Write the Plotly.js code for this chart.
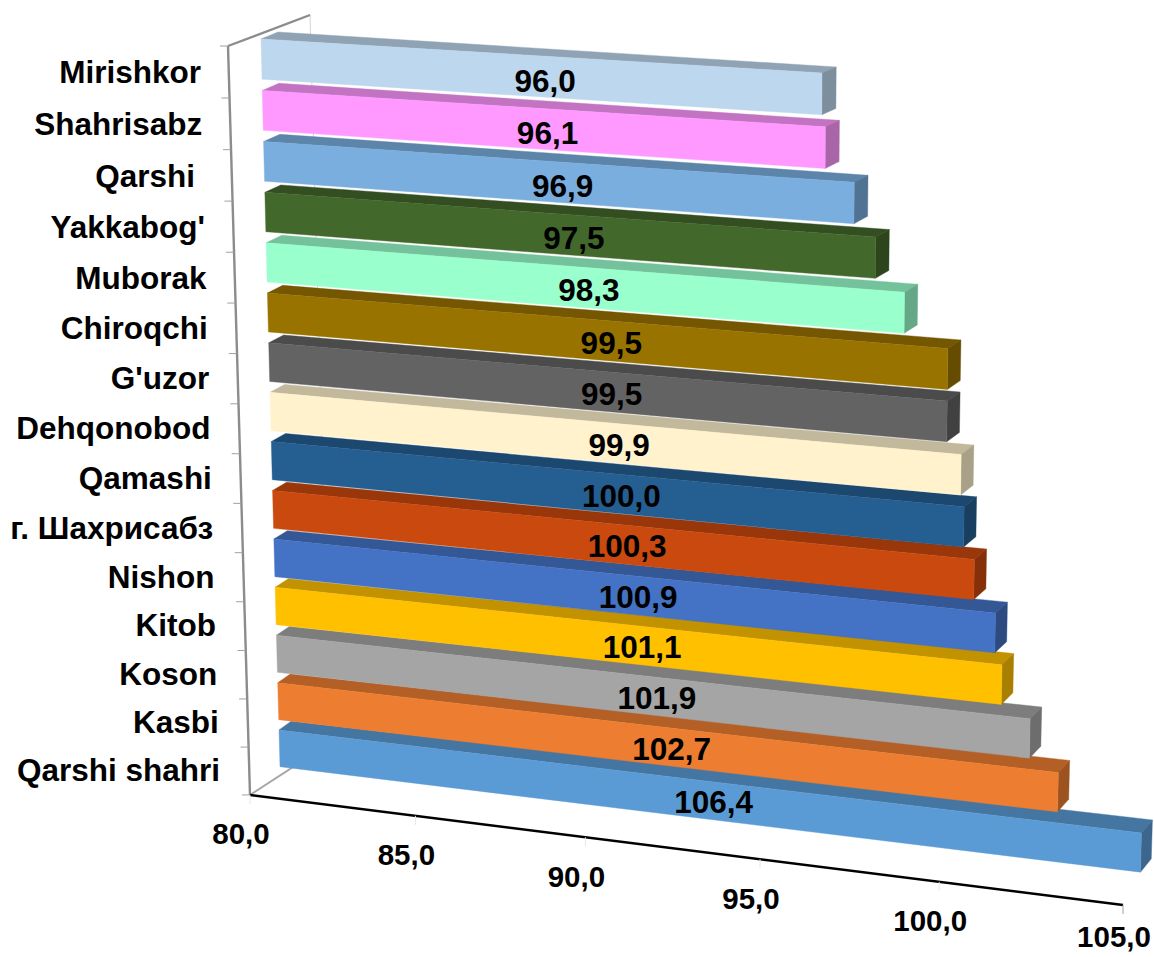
<!DOCTYPE html>
<html>
<head>
<meta charset="utf-8">
<script src="https://cdn.plot.ly/plotly-3.0.1.min.js"></script>
<style>html,body{margin:0;padding:0;background:#fff}#chart{width:1154px;height:957px}</style>
</head>
<body>
<div id="chart"></div>
<script>
// Data, top row first
const categories = ["Mirishkor","Shahrisabz","Qarshi\u00a0","Yakkabog'","Muborak","Chiroqchi","G'uzor","Dehqonobod","Qamashi","г. Шахрисабз","Nishon","Kitob","Koson","Kasbi","Qarshi shahri"];
const values = [96.0,96.1,96.9,97.5,98.3,99.5,99.5,99.9,100.0,100.3,100.9,101.1,101.9,102.7,106.4];
const colors = ["#BDD7EE","#FF99FF","#7AAEDF","#43682B","#99FFCC","#997300","#636363","#FFF2CC","#255E91","#C9490E","#4472C4","#FFC000","#A5A5A5","#ED7D31","#5B9BD5"];
const xTickValues = [80,85,90,95,100,105];
const axisMin = 80, axisMax = 105;

const fmt = v => v.toFixed(1).replace('.', ',');
const FONT = 'Liberation Sans, Arial, sans-serif';

// Oblique projection of (value, row position, depth flag) to the page.
function run(v, t){
  const s = Math.min(Math.max(v, axisMin), axisMax) - axisMin;
  return (32.62*s + 0.092*s*s) * (1.0285 - 0.0029*t);
}
function proj(v, t, back){
  const r = run(v, t);
  let x = 261 + t*18/14 + r;
  let y = 39 + 51.6*t - 0.16*t*t + (0.0605 + 0.0042*t)*r;
  if (back){
    const w = Math.min(1, r/(560 + 21.5*t));
    const dxL = 17 - 0.35*t, dxR = 14.2 - 0.23*t;
    const dyL = 7 + 0.13*t, dyR = 6 + 0.5*t;
    x += dxL + (dxR-dxL)*w;
    y -= dyL + (dyR-dyL)*w;
  }
  return [x, y];
}
function shade(hex, k){
  const n = parseInt(hex.slice(1), 16);
  const c = [n>>16 & 255, n>>8 & 255, n & 255].map(a => Math.round(a*k));
  return `rgb(${c[0]},${c[1]},${c[2]})`;
}
function face(points, color){
  const p = points.concat([points[0]]);
  return {x:p.map(a=>a[0]), y:p.map(a=>a[1]), mode:'lines', fill:'toself', fillcolor:color,
    line:{color:color, width:0.4}, hoverinfo:'skip', showlegend:false};
}
function line(x, y, color, width){
  return {x, y, mode:'lines', line:{color, width}, hoverinfo:'skip', showlegend:false};
}
function labels(x, y, text, size, position){
  return {x, y, text, mode:'text', textposition:position, cliponaxis:false, hoverinfo:'skip', showlegend:false,
    textfont:{family:FONT, size, color:'#000', weight:'bold'}};
}

// Frame of the 3D box
const rowTickY = k => 46 + 52.15*k - 0.148*k*k;
const rowTickX = k => 228 + 22*k/15;
const axisX = v => { const s = v-axisMin; return 250 + 32.62*s + 0.092*s*s; };
const axisY = v => 795 + 0.126*(axisX(v)-250);

const traces = [];
traces.push(line([310,330],[15,745],'#d4d4d4',1));
traces.push(line([250,330],[795,743],'#a6a6a6',2));
traces.push(line([228,310],[46,15],'#8c8c8c',2.4));
traces.push(line([228,250],[46,795],'#8c8c8c',2.4));
for (let k=0;k<=categories.length;k++){
  traces.push(line([rowTickX(k)-8,rowTickX(k)],[rowTickY(k),rowTickY(k)],'#a0a0a0',1));
}
traces.push(line([axisX(axisMin),axisX(axisMax)],[axisY(axisMin),axisY(axisMax)],'#000',2.4));
xTickValues.forEach(v=>{
  traces.push(line([axisX(v),axisX(v)],[axisY(v),axisY(v)+9], v===axisMax?'#a0a0a0':'#dfe8f2',1));
});

// Bars: lowest row first so upper rows overlap its top face
const H = 0.78;
for (let i=values.length-1;i>=0;i--){
  const v = values[i], col = colors[i];
  const a = proj(axisMin,i,false), b = proj(v,i,false), c = proj(v,i+H,false), d = proj(axisMin,i+H,false);
  const a2 = proj(axisMin,i,true), b2 = proj(v,i,true), c2 = proj(v,i+H,true);
  traces.push(face([a,a2,b2,b], shade(col,0.76)));
  traces.push(face([b,b2,c2,c], shade(col,0.66)));
  traces.push(face([a,b,c,d], col));
}

// Value labels at the middle of each front face
const lx=[], ly=[];
values.forEach((v,i)=>{
  const p0 = proj(axisMin,i+H/2,false), p1 = proj(v,i+H/2,false);
  lx.push((p0[0]+p1[0])/2+3.5);
  ly.push((p0[1]+p1[1])/2+5+Math.max(0,5-i)*0.5);
});
traces.push(labels(lx,ly,values.map(fmt),31.5,'middle center'));

// Category labels
traces.push(labels(categories.map((c,k)=>201+1.36*k), categories.map((c,k)=>rowTickY(k+0.5)+3.5-k*0.1), categories, 31.5, 'middle left'));

// Value-axis tick labels (the last one kept just inside the page)
traces.push(labels(xTickValues.map(v=>axisX(v)-9), xTickValues.map(v=>Math.min(axisY(v)+42, 940)), xTickValues.map(fmt), 29.5, 'middle center'));

Plotly.newPlot('chart', traces, {
  width:1154, height:957, margin:{l:0,r:0,t:0,b:0},
  paper_bgcolor:'#fff', plot_bgcolor:'#fff', showlegend:false,
  xaxis:{range:[0,1154], visible:false, fixedrange:true},
  yaxis:{range:[957,0], visible:false, fixedrange:true}
}, {displayModeBar:false, staticPlot:true});
</script>
</body>
</html>
